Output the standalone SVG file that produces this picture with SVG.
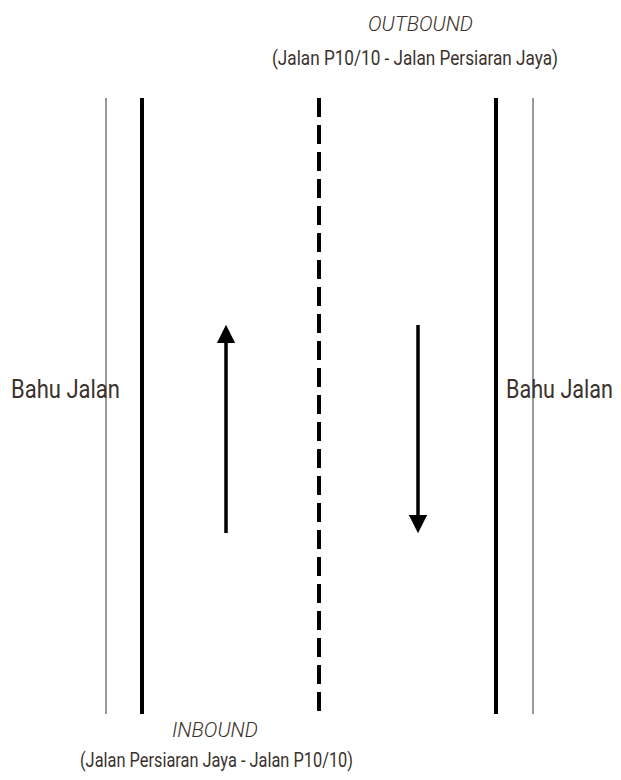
<svg xmlns="http://www.w3.org/2000/svg" width="621" height="780" viewBox="0 0 621 780">
<style>
.t{font-family:Roboto,"Open Sans","Liberation Sans",sans-serif;fill:#3b322d}
.it{font-style:italic;font-size:20px;font-weight:300}
.sub{font-size:20px;font-weight:400}
.bahu{font-size:25px;font-weight:400}
.thin{stroke:#555;stroke-width:1.2}
.thick{stroke:#000;stroke-width:4}
.dash{stroke:#000;stroke-width:4;stroke-dasharray:19 8}
.arr{stroke:#000;stroke-width:3.5;fill:none}
</style>
<defs>
<marker id="ah" viewBox="0 0 10 10" refX="0" refY="5" markerWidth="5.2" markerHeight="5.2" orient="auto" markerUnits="strokeWidth">
<path d="M0,0 L10,5 L0,10 Z" fill="#000"/>
</marker>
</defs>
<rect width="621" height="780" fill="#fff"/>
<g id="road">
<line class="thin" x1="106" y1="98" x2="106" y2="714"/>
<line class="thick" x1="142" y1="98" x2="142" y2="714"/>
<line class="dash" x1="319" y1="98" x2="319" y2="714"/>
<line class="thick" x1="496" y1="98" x2="496" y2="714"/>
<line class="thin" x1="533" y1="98" x2="533" y2="714"/>
</g>
<g id="connectors">
<line class="arr" x1="226" y1="533" x2="226" y2="343" marker-end="url(#ah)"/>
<line class="arr" x1="418" y1="325" x2="418" y2="515" marker-end="url(#ah)"/>
</g>
<g id="outbound">
<text class="t it" x="368" y="31" textLength="105" lengthAdjust="spacingAndGlyphs">OUTBOUND</text>
<text class="t sub" x="272" y="65" textLength="286" lengthAdjust="spacingAndGlyphs">(Jalan P10/10 - Jalan Persiaran Jaya)</text>
</g>
<g id="inbound">
<text class="t it" x="172" y="737" textLength="86" lengthAdjust="spacingAndGlyphs">INBOUND</text>
<text class="t sub" x="80" y="767" textLength="273" lengthAdjust="spacingAndGlyphs">(Jalan Persiaran Jaya - Jalan P10/10)</text>
</g>
<g id="bahu-left">
<text class="t bahu" x="11" y="398" textLength="109" lengthAdjust="spacingAndGlyphs">Bahu Jalan</text>
</g>
<g id="bahu-right">
<text class="t bahu" x="506" y="398" textLength="107" lengthAdjust="spacingAndGlyphs">Bahu Jalan</text>
</g>
</svg>
